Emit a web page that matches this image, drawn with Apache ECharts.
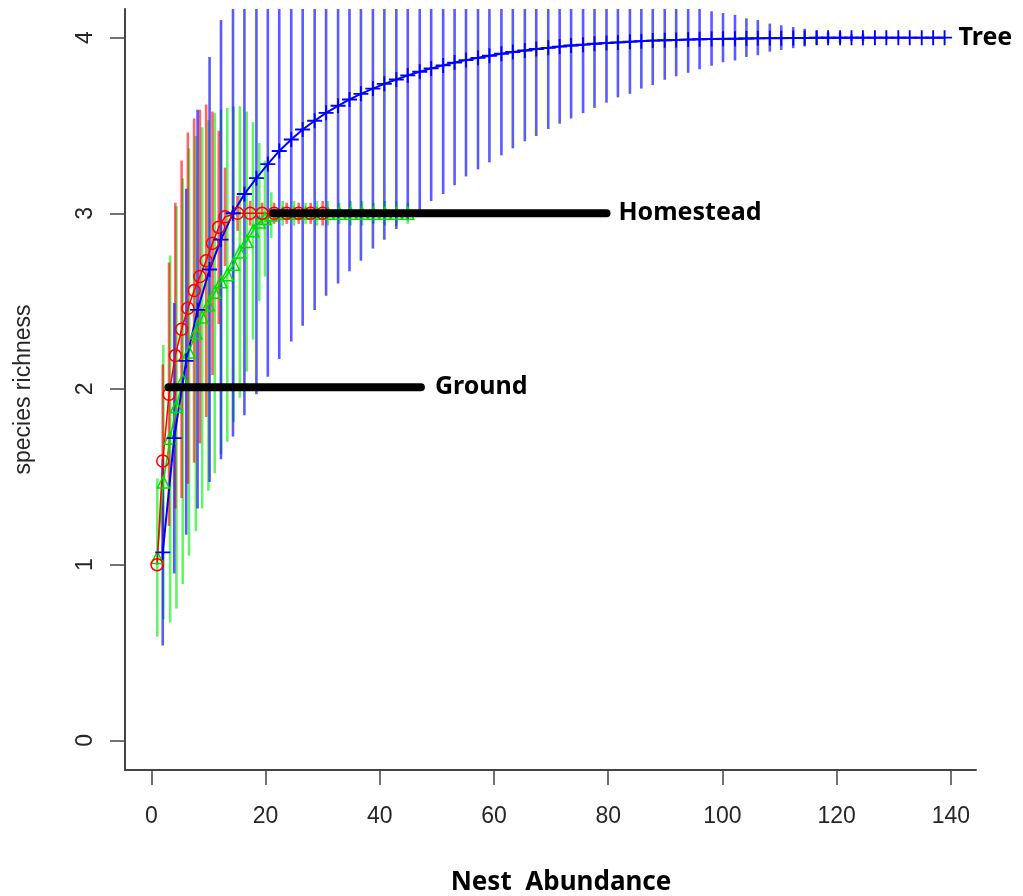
<!DOCTYPE html>
<html>
<head>
<meta charset="utf-8">
<script src="https://cdn.jsdelivr.net/npm/echarts@6/dist/echarts.min.js"></script>
<style>
  html, body { margin: 0; padding: 0; background: #fff; }
  #chart { width: 1023px; height: 896px; }
</style>
</head>
<body>
<div id="chart"></div>
<script>
// tick labels
const xTicks = [0, 20, 40, 60, 80, 100, 120, 140]
const yTicks = [0, 1, 2, 3, 4]

// Tree: nest abundance, species richness and its interval
const treeX = [2.0, 4.0, 6.1, 8.1, 10.2, 12.2, 14.3, 16.3, 18.4, 20.4, 22.4, 24.5, 26.5, 28.6, 30.6, 32.7, 34.7, 36.7, 38.8, 40.8,
  42.9, 44.9, 47.0, 49.0, 51.1, 53.1, 55.1, 57.2, 59.2, 61.3, 63.3, 65.4, 67.4, 69.5, 71.5, 73.5, 75.6, 77.6, 79.7, 81.7,
  83.8, 85.8, 87.8, 89.9, 91.9, 94.0, 96.0, 98.1, 100.1, 102.2, 104.2, 106.2, 108.3, 110.3, 112.4, 114.4, 116.5, 118.5, 120.6, 122.6,
  124.6, 126.7, 128.7, 130.8, 132.8, 134.9, 136.9, 138.9]
const treeMean = [1.07, 1.72, 2.16, 2.45, 2.68, 2.85, 3.00, 3.11, 3.20, 3.28, 3.355, 3.42, 3.477, 3.527, 3.572, 3.612, 3.648, 3.68, 3.71, 3.737,
  3.762, 3.785, 3.806, 3.825, 3.842, 3.858, 3.872, 3.885, 3.897, 3.908, 3.918, 3.927, 3.935, 3.942, 3.949, 3.955, 3.96, 3.965, 3.969, 3.973,
  3.977, 3.98, 3.983, 3.985, 3.987, 3.989, 3.991, 3.992, 3.993, 3.994, 3.995, 3.996, 3.997, 3.997, 3.998, 3.998, 3.999, 3.999, 3.999, 4.00,
  4.00, 4.00, 4.00, 4.00, 4.00, 4.00, 4.00, 4.00]
const treeLower = [0.54, 0.95, 1.17, 1.32, 1.47, 1.60, 1.73, 1.85, 1.97, 2.07, 2.17, 2.27, 2.36, 2.45, 2.53, 2.60, 2.67, 2.73, 2.80, 2.85,
  2.91, 2.96, 3.02, 3.07, 3.11, 3.16, 3.21, 3.25, 3.29, 3.33, 3.37, 3.41, 3.44, 3.48, 3.51, 3.54, 3.57, 3.60, 3.63, 3.66,
  3.68, 3.71, 3.73, 3.76, 3.78, 3.80, 3.82, 3.84, 3.86, 3.87, 3.89, 3.90, 3.92, 3.93, 3.94, 3.95, 3.96, 3.97, 3.97, 3.98,
  3.98, 3.99, 3.99, 3.99, 4.00, 4.00, 4.00, 4.00]
const treeUpper = [1.60, 2.49, 3.14, 3.59, 3.89, 4.10, 4.27, 4.37, 4.43, 4.49, 4.55, 4.57, 4.60, 4.61, 4.61, 4.62, 4.63, 4.63, 4.62, 4.63,
  4.63, 4.62, 4.60, 4.59, 4.59, 4.56, 4.55, 4.53, 4.51, 4.49, 4.47, 4.45, 4.44, 4.42, 4.41, 4.38, 4.37, 4.34, 4.33, 4.30,
  4.28, 4.27, 4.25, 4.22, 4.20, 4.18, 4.17, 4.15, 4.14, 4.13, 4.11, 4.10, 4.08, 4.07, 4.06, 4.05, 4.04, 4.03, 4.03, 4.02,
  4.02, 4.01, 4.01, 4.01, 4.00, 4.00, 4.00, 4.00]

// Homestead
const homeX = [1.0, 2.0, 3.1, 4.2, 5.3, 6.4, 7.5, 8.5, 9.6, 10.7, 11.8, 12.9, 15.1, 17.3, 19.4, 21.5, 23.7, 25.8, 27.9, 30.0]
const homeMean = [1.00, 1.59, 1.97, 2.19, 2.34, 2.46, 2.56, 2.64, 2.73, 2.83, 2.92, 2.98, 3.00, 3.00, 3.00, 3.00, 3.00, 3.00, 3.00, 3.00]
const homeLower = [1.00, 1.04, 1.22, 1.32, 1.38, 1.46, 1.58, 1.69, 1.84, 2.08, 2.37, 2.70, 2.90, 2.93, 2.94, 2.94, 2.94, 2.94, 2.94, 2.93]
const homeUpper = [1.00, 2.14, 2.72, 3.06, 3.30, 3.46, 3.54, 3.59, 3.62, 3.58, 3.47, 3.26, 3.10, 3.07, 3.06, 3.06, 3.06, 3.06, 3.06, 3.07]

// Ground
const groundX = [1.05, 2.1, 3.3, 4.4, 5.5, 6.6, 7.8, 8.9, 10.0, 11.1, 12.2, 13.3, 14.4, 15.5, 16.7, 17.8, 18.9, 19.9, 21.0,
  23.0, 25.0, 27.0, 29.0, 30.9, 32.9, 34.9, 36.9, 38.9, 40.9, 42.9, 44.9]
const groundMean = [1.04, 1.47, 1.72, 1.90, 2.05, 2.21, 2.32, 2.41, 2.48, 2.55, 2.61, 2.65, 2.71, 2.78, 2.84, 2.90, 2.95, 2.97, 2.99,
  3.00, 3.00, 3.00, 3.00, 3.00, 3.00, 3.00, 3.00, 3.00, 3.00, 3.00, 3.00]
const groundLower = [0.59, 0.69, 0.67, 0.75, 0.89, 1.05, 1.19, 1.32, 1.42, 1.52, 1.63, 1.70, 1.81, 1.95, 2.10, 2.28, 2.50, 2.64, 2.86,
  2.93, 2.93, 2.94, 2.93, 2.93, 2.94, 2.93, 2.93, 2.94, 2.93, 2.93, 2.94]
const groundUpper = [1.49, 2.25, 2.76, 3.04, 3.20, 3.37, 3.44, 3.49, 3.53, 3.57, 3.59, 3.60, 3.61, 3.61, 3.58, 3.52, 3.40, 3.30, 3.12,
  3.07, 3.07, 3.06, 3.07, 3.07, 3.06, 3.07, 3.07, 3.06, 3.07, 3.07, 3.06]

// pointer lines next to the labels
const homesteadPointer = [[21.3, 3.0], [79.7, 3.0]]
const groundPointer = [[3.0, 2.01], [47.2, 2.01]]

const zip = (...cols) => cols[0].map((_, i) => cols.map(c => c[i]))

const chart = echarts.init(document.getElementById('chart'))

function errorBars(name, xs, lo, hi, color) {
  return {
    name: name,
    type: 'custom',
    clip: true,
    silent: true,
    data: zip(xs, lo, hi),
    renderItem(params, api) {
      const p1 = api.coord([api.value(0), api.value(1)])
      const p2 = api.coord([api.value(0), api.value(2)])
      return {
        type: 'line',
        shape: { x1: p1[0], y1: p1[1], x2: p2[0], y2: p2[1] },
        style: { stroke: color, lineWidth: 2.6 }
      }
    }
  }
}

const labelFont = {
  fontFamily: 'Noto Sans',
  fontWeight: 'bold',
  fontSize: 25,
  color: '#000'
}

chart.setOption({
  animation: false,
  grid: { left: 125, right: 47, top: 9, bottom: 126, outerBoundsMode: 'none' },
  xAxis: {
    type: 'value',
    min: -4.61,
    max: 144.4,
    splitLine: { show: false },
    axisLine: { onZero: false, lineStyle: { color: '#444', width: 2 } },
    axisTick: { length: 15, customValues: xTicks, lineStyle: { color: '#444', width: 1.5 } },
    axisLabel: { customValues: xTicks, margin: 35, fontSize: 23, color: '#262626', fontFamily: 'Liberation Sans' },
    name: 'Nest  Abundance',
    nameLocation: 'middle',
    nameGap: 100,
    nameTextStyle: { fontFamily: 'Noto Sans', fontWeight: 'bold', fontSize: 26, color: '#000', padding: [0, 0, 0, 21] }
  },
  yAxis: {
    type: 'value',
    min: -0.169,
    max: 4.163,
    splitLine: { show: false },
    axisLine: { onZero: false, lineStyle: { color: '#444', width: 2 } },
    axisTick: { length: 15, customValues: yTicks, lineStyle: { color: '#444', width: 1.5 } },
    axisLabel: { customValues: yTicks, rotate: 90, margin: 28, fontSize: 23, color: '#262626', fontFamily: 'Liberation Sans' },
    name: 'species richness',
    nameLocation: 'middle',
    nameRotate: 90,
    nameGap: 90,
    nameTextStyle: { fontSize: 23, color: '#262626', fontFamily: 'Liberation Sans' }
  },
  series: [
    errorBars('Ground CI', groundX, groundLower, groundUpper, 'rgba(0,235,0,0.6)'),
    errorBars('Homestead CI', homeX, homeLower, homeUpper, 'rgba(255,0,0,0.6)'),
    errorBars('Tree CI', treeX, treeLower, treeUpper, 'rgba(20,20,255,0.7)'),
    {
      name: 'Ground',
      type: 'line',
      data: zip(groundX, groundMean),
      symbol: 'triangle',
      symbolSize: 12,
      lineStyle: { color: '#00e000', width: 1.5 },
      itemStyle: { color: 'none', borderColor: '#00e000', borderWidth: 1.5 }
    },
    {
      name: 'Homestead',
      type: 'line',
      data: zip(homeX, homeMean),
      symbol: 'circle',
      symbolSize: 12,
      lineStyle: { color: '#ff0000', width: 1.5 },
      itemStyle: { color: 'none', borderColor: '#ff0000', borderWidth: 1.5 }
    },
    {
      name: 'Tree',
      type: 'line',
      z: 3,
      data: zip(treeX, treeMean),
      symbol: 'path://M0,7H16V9H0Z M7,0H9V16H7Z',
      symbolSize: 15,
      lineStyle: { color: '#0000ff', width: 2 },
      itemStyle: { color: '#0000ff' },
      endLabel: Object.assign({ show: true, formatter: 'Tree', distance: 14 }, labelFont)
    },
    {
      name: 'Homestead pointer',
      type: 'line',
      z: 5,
      data: homesteadPointer,
      symbol: 'none',
      lineStyle: { color: '#000', width: 8, cap: 'round' },
      endLabel: Object.assign({ show: true, formatter: 'Homestead', distance: 12 }, labelFont)
    },
    {
      name: 'Ground pointer',
      type: 'line',
      z: 5,
      data: groundPointer,
      symbol: 'none',
      lineStyle: { color: '#000', width: 8, cap: 'round' },
      endLabel: Object.assign({ show: true, formatter: 'Ground', distance: 14 }, labelFont)
    }
  ]
})
</script>
</body>
</html>
